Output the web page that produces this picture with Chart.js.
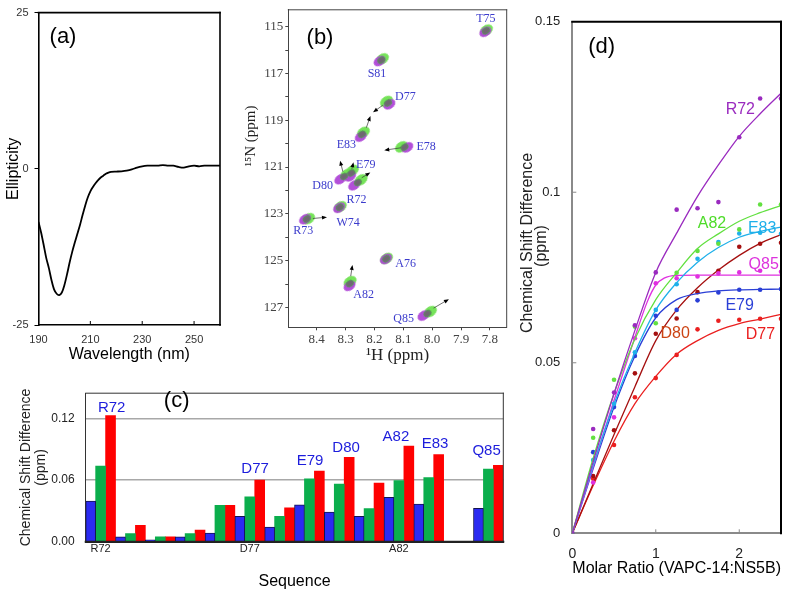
<!DOCTYPE html>
<html><head><meta charset="utf-8">
<script src="https://cdn.jsdelivr.net/npm/chart.js@4.4.1/dist/chart.umd.min.js"></script>
<style>
html,body{margin:0;padding:0;background:#fff;width:786px;height:593px;overflow:hidden;}
.p{position:absolute;}
</style></head><body>
<div class="p" style="left:0;top:0;width:240px;height:372px"><canvas id="ca"></canvas></div>
<div class="p" style="left:240px;top:0;width:290px;height:372px"><canvas id="cb"></canvas></div>
<div class="p" style="left:0;top:375px;width:530px;height:218px"><canvas id="cc"></canvas></div>
<div class="p" style="left:515px;top:0;width:271px;height:593px"><canvas id="cd"></canvas></div>
<script>
// ---------- (a) CD spectrum ----------
const cdWavelength = [190,191,192,193,194,195,196,197,198,199,200,201,202,203,204,205,206,207,208,209,210,211,212,213,214,215,216,217,218,220,222,224,226,228,230,232,234,236,238,240,242,244,246,248,250,252,254,256,258,260];
const cdEllipticity = [-8.5,-10.2,-12.2,-14.3,-15.9,-17.8,-19.3,-20.0,-20.2,-19.8,-18.6,-16.9,-15.0,-13.3,-11.8,-10.4,-9.0,-7.4,-5.9,-4.6,-3.6,-2.9,-2.3,-1.8,-1.4,-1.1,-0.8,-0.6,-0.5,-0.45,-0.4,-0.3,-0.1,0.2,0.4,0.5,0.5,0.5,0.6,0.5,0.5,0.3,0.2,0.4,0.5,0.4,0.5,0.5,0.5,0.5];
const cdTicksX = [190,210,230,250];
const cdTicksY = [-25,0,25];

// ---------- (b) HSQC overlay ----------
const nmrResidues = ['T75','S81','D77','E83','E78','D80','E79','R72','W74','R73','A76','A82','Q85'];
const nmrH      = [7.814,8.176,8.153,8.243,8.096,8.305,8.280,8.257,8.320,8.434,8.159,8.285,8.016];
const nmrN      = [115.18,116.43,118.26,119.60,120.15,121.40,121.25,121.66,122.72,123.22,124.92,125.98,127.26];
const nmrFreeH  = [7.816,8.182,8.148,8.247,8.086,8.318,8.284,8.270,8.322,8.440,8.160,8.286,8.030];
const nmrFreeN  = [115.22,116.47,118.32,119.70,120.16,121.52,121.40,121.78,122.74,123.23,124.93,126.08,127.35];
const nmrBoundH = [7.812,8.172,8.158,8.238,8.106,8.296,8.276,8.246,8.318,8.428,8.158,8.284,8.006];
const nmrBoundN = [115.15,116.38,118.20,119.52,120.14,121.32,121.15,121.55,122.70,123.21,124.91,125.90,127.18];
const arrowFromH = [8.171,8.228,8.109,8.309,8.278,8.244,8.413,8.282,7.995];
const arrowFromN = [118.36,119.32,120.18,121.20,121.08,121.46,123.20,125.67,127.03];
const arrowToH   = [8.199,8.216,8.159,8.317,8.274,8.220,8.371,8.277,7.948];
const arrowToN   = [118.61,118.90,120.27,120.81,120.88,121.28,123.15,125.27,126.69];
const nmrTicksH = [8.4,8.3,8.2,8.1,8.0,7.9,7.8];
const nmrTicksN = [115,116,117,118,119,120,121,122,123,124,125,126,127];

// ---------- (c) chemical shift difference per residue ----------
const seqResidues = ['R72','R73','W74','T75','A76','D77','E78','E79','D80','S81','A82','E83','P84','Q85'];
const csdBlue  = [0.0395,0.0047,0.0019,0.0047,0.0084,0.0246,0.0143,0.0358,0.0289,0.0246,0.0432,0.0367,null,0.0326];
const csdGreen = [0.0737,0.0078,0.0047,0.0078,0.0354,0.0438,0.0246,0.0612,0.0560,0.0323,0.0594,0.0625,null,0.0706];
const csdRed   = [0.1228,0.0159,0.0047,0.0112,0.0354,0.0600,0.0330,0.0687,0.0821,0.0572,0.0930,0.0849,null,0.0743];
const seqTickShown = ['R72','D77','A82'];
const csdTicks = [0,0.06,0.12];
const csdHighlighted = ['R72','D77','E79','D80','A82','E83','Q85'];

// ---------- (d) titration curves ----------
const molarRatio = [0,0.25,0.5,0.75,1,1.25,1.5,1.75,2,2.25,2.5];
const ptR72 = [0,0.0306,0.0413,0.0610,0.0765,0.0949,0.0953,0.0971,0.1161,0.1275,0.1275];
const ptA82 = [0,0.0280,0.0450,0.0606,0.0616,0.0764,0.0828,0.0849,0.0891,0.0964,0.0964];
const ptE83 = [0,0.0215,0.0380,0.0531,0.0655,0.0730,0.0805,0.0854,0.0879,0.0881,0.0878];
const ptQ85 = [0,0.0149,0.0340,0.0572,0.0733,0.0748,0.0753,0.0762,0.0765,0.0770,0.0767];
const ptE79 = [0,0.0238,0.0370,0.0520,0.0638,0.0655,0.0683,0.0706,0.0714,0.0714,0.0716];
const ptD80 = [0,0.0168,0.0302,0.0469,0.0585,0.0630,0.0707,0.0770,0.0840,0.0849,0.0852];
const ptD77 = [0,0.0160,0.0259,0.0399,0.0455,0.0523,0.0598,0.0623,0.0626,0.0629,0.0629];
const fitRatio = [0,0.25,0.5,0.75,1,1.25,1.5,1.75,2,2.25,2.5];
const fitR72 = [0,0.021,0.041,0.0595,0.0765,0.088,0.0988,0.108,0.1164,0.123,0.129];
const fitA82 = [0,0.022,0.041,0.057,0.0685,0.0764,0.0835,0.0878,0.0915,0.094,0.0961];
const fitE83 = [0,0.020,0.038,0.053,0.0655,0.0735,0.0795,0.0838,0.0868,0.0885,0.0898];
const fitE79 = [0,0.019,0.037,0.052,0.0632,0.0685,0.0703,0.0711,0.0714,0.0715,0.0716];
const fitD80 = [0,0.0145,0.029,0.043,0.0565,0.0655,0.072,0.0772,0.0815,0.085,0.0876];
const fitD77 = [0,0.014,0.027,0.038,0.046,0.0525,0.0565,0.0595,0.0615,0.0628,0.0642];
const fitRatioQ85 = [0,0.25,0.5,0.75,0.9,1,1.1,1.25,1.5,2,2.5];
const fitQ85 = [0,0.0195,0.039,0.0575,0.068,0.0728,0.0748,0.0756,0.0757,0.0757,0.0757];
const titrTicksX = [0,1,2];
const titrTicksY = [0,0.05,0.1,0.15];

// ================= rendering =================
const SANS = '"Liberation Sans", Arial, sans-serif';
const SERIF = '"Liberation Serif", "Times New Roman", serif';
Chart.defaults.font.family = SANS;
Chart.defaults.color = '#222';
Chart.defaults.animation = false;

const pts = (xs, ys) => xs.map((x, i) => ({x, y: ys[i]})).filter(p => p.y !== null);
const fixTicks = arr => s => { s.ticks = arr.map(v => ({value: v})); };

function boxPlugin(sides, innerTicks) {
  return {
    id: 'box' + Math.random().toString(36).slice(2),
    afterDraw(chart) {
      const {ctx, chartArea: a} = chart;
      ctx.save();
      ctx.lineCap = 'square';
      sides.forEach(s => {
        ctx.strokeStyle = s.color; ctx.lineWidth = s.width;
        ctx.beginPath();
        if (s.side === 'top') { ctx.moveTo(a.left, a.top); ctx.lineTo(a.right, a.top); }
        if (s.side === 'bottom') { ctx.moveTo(a.left, a.bottom); ctx.lineTo(a.right, a.bottom); }
        if (s.side === 'left') { ctx.moveTo(a.left, a.top); ctx.lineTo(a.left, a.bottom); }
        if (s.side === 'right') { ctx.moveTo(a.right, a.top); ctx.lineTo(a.right, a.bottom); }
        ctx.stroke();
      });
      ctx.lineCap = 'butt';
      (innerTicks || []).forEach(it => {
        const sc = chart.scales[it.axis];
        ctx.strokeStyle = it.color; ctx.lineWidth = it.width;
        it.values.forEach(v => {
          const p = sc.getPixelForValue(v);
          ctx.beginPath();
          if (it.axis === 'x') { ctx.moveTo(p, a.bottom); ctx.lineTo(p, a.bottom - it.len); }
          else { ctx.moveTo(a.left, p); ctx.lineTo(a.left + it.len, p); }
          ctx.stroke();
        });
      });
      ctx.restore();
    }
  };
}
function textPlugin(items) {
  return {
    id: 'txt' + Math.random().toString(36).slice(2),
    afterDraw(chart) {
      const ctx = chart.ctx;
      items.forEach(it => {
        let x = it.x, y = it.y;
        if (it.data) { x = chart.scales.x.getPixelForValue(it.x); y = chart.scales.y.getPixelForValue(it.y); }
        ctx.save();
        ctx.translate(x, y);
        if (it.rot) ctx.rotate(it.rot * Math.PI / 180);
        ctx.font = it.font; ctx.fillStyle = it.color || '#000';
        ctx.textAlign = 'center'; ctx.textBaseline = 'middle';
        ctx.fillText(it.t, 0, 0);
        ctx.restore();
      });
    }
  };
}

// ---------- (a) ----------
new Chart(document.getElementById('ca'), {
  type: 'line',
  data: { datasets: [{ data: pts(cdWavelength, cdEllipticity), borderColor: '#000', borderWidth: 1.8, pointRadius: 0, tension: 0.3, fill: false }] },
  options: {
    responsive: true, maintainAspectRatio: false,
    layout: { padding: { left: 0, top: 7, right: 20, bottom: 0 } },
    plugins: { legend: { display: false }, tooltip: { enabled: false } },
    scales: {
      x: { type: 'linear', min: 190, max: 260, afterBuildTicks: fixTicks(cdTicksX), afterFit: s => { s.height = 47; },
        grid: { drawOnChartArea: false, drawTicks: false }, border: { color: '#000', width: 1.6 },
        ticks: { padding: 8, font: { size: 11 }, color: '#333', maxRotation: 0, autoSkip: false },
        title: { display: true, text: 'Wavelength (nm)', font: { size: 16 }, color: '#000', padding: { top: 0, bottom: 8 } } },
      y: { min: -25, max: 25, afterBuildTicks: fixTicks(cdTicksY), afterFit: s => { s.width = 38.5; },
        grid: { drawOnChartArea: false, drawTicks: true, tickLength: 4, color: '#000' }, border: { color: '#000', width: 1.6 },
        ticks: { padding: 6, font: { size: 11 }, color: '#333' },
        title: { display: true, text: 'Ellipticity', font: { size: 16 }, color: '#000', padding: { top: 4, bottom: 0 } } }
    }
  },
  plugins: [
    boxPlugin([{side:'top',color:'#000',width:1.6},{side:'right',color:'#000',width:1.6}],
              [{axis:'x',values:[210,230,250],len:4,color:'#000',width:1}]),
    textPlugin([{ t: '(a)', x: 63, y: 37, font: '22px ' + SANS, color: '#000' }])
  ]
});

// ---------- (b) ----------
function ellipseImg(color, w, h, stroke) {
  const c = document.createElement('canvas'); c.width = w + 4; c.height = h + 4;
  const g = c.getContext('2d');
  g.beginPath(); g.ellipse((w + 4) / 2, (h + 4) / 2, w / 2, h / 2, 0, 0, Math.PI * 2);
  g.fillStyle = color; g.fill();
  if (stroke) { g.strokeStyle = stroke; g.lineWidth = 1; g.stroke(); }
  return c;
}
const imgGreen = ellipseImg('rgba(110,225,80,0.95)', 14, 10);
const imgMag = ellipseImg('rgba(175,70,215,0.95)', 13, 9);
const imgGray = ellipseImg('rgba(105,105,105,0.9)', 8, 6, 'rgba(80,160,80,0.8)');

function arrowPlugin() {
  return {
    id: 'arrows',
    afterDatasetsDraw(chart) {
      const {ctx, scales: {x, y}} = chart;
      ctx.save();
      ctx.strokeStyle = '#333'; ctx.fillStyle = '#000'; ctx.lineWidth = 0.7;
      arrowFromH.forEach((h, i) => {
        const x1 = x.getPixelForValue(h), y1 = y.getPixelForValue(arrowFromN[i]);
        const x2 = x.getPixelForValue(arrowToH[i]), y2 = y.getPixelForValue(arrowToN[i]);
        const ang = Math.atan2(y2 - y1, x2 - x1);
        ctx.beginPath(); ctx.moveTo(x1, y1); ctx.lineTo(x2, y2); ctx.stroke();
        ctx.beginPath();
        ctx.moveTo(x2 + 2 * Math.cos(ang), y2 + 2 * Math.sin(ang));
        ctx.lineTo(x2 - 3 * Math.cos(ang) - 2 * Math.sin(ang), y2 - 3 * Math.sin(ang) + 2 * Math.cos(ang));
        ctx.lineTo(x2 - 3 * Math.cos(ang) + 2 * Math.sin(ang), y2 - 3 * Math.sin(ang) - 2 * Math.cos(ang));
        ctx.closePath(); ctx.fill();
      });
      ctx.restore();
    }
  };
}
const nmrLabelPos = {T75:[7.814,114.65],S81:[8.191,117.03],D77:[8.093,117.98],E83:[8.297,120.06],E78:[8.021,120.14],
  E79:[8.230,120.92],D80:[8.379,121.80],R72:[8.262,122.40],W74:[8.291,123.40],R73:[8.446,123.71],A76:[8.092,125.13],
  A82:[8.237,126.48],Q85:[8.099,127.47]};
new Chart(document.getElementById('cb'), {
  type: 'scatter',
  data: { datasets: [
    { data: pts(nmrH, nmrN), pointStyle: imgGray, rotation: -35, pointRadius: 4 },
    { data: pts(nmrFreeH, nmrFreeN), pointStyle: imgMag, rotation: -35, pointRadius: 6 },
    { data: pts(nmrBoundH, nmrBoundN), pointStyle: imgGreen, rotation: -35, pointRadius: 7 }
  ] },
  options: {
    responsive: true, maintainAspectRatio: false,
    layout: { padding: { left: 0, top: 8.3, right: 23.3, bottom: 0 } },
    plugins: { legend: { display: false }, tooltip: { enabled: false } },
    scales: {
      x: { type: 'linear', reverse: true, min: 7.742, max: 8.498, afterBuildTicks: fixTicks(nmrTicksH), afterFit: s => { s.height = 44.7; },
        grid: { drawOnChartArea: false, drawTicks: true, tickLength: 3, color: '#444' }, border: { color: '#444', width: 1 },
        ticks: { padding: 1, font: { size: 13, family: SERIF }, color: '#444', maxRotation: 0, autoSkip: false, callback: v => v.toFixed(1) },
        title: { display: true, text: '¹H (ppm)', font: { size: 17, family: SERIF }, color: '#222', padding: { top: 0, bottom: 6 } } },
      y: { type: 'linear', reverse: true, min: 114.28, max: 127.85, afterBuildTicks: fixTicks(nmrTicksN), afterFit: s => { s.width = 48.3; },
        grid: { drawOnChartArea: false, drawTicks: true, tickLength: 3, color: '#444' }, border: { color: '#444', width: 1 },
        ticks: { padding: 2, font: { size: 13, family: SERIF }, color: '#444', autoSkip: false, callback: v => (v % 2 === 1 ? String(v) : '') } }
    }
  },
  plugins: [
    arrowPlugin(),
    boxPlugin([{side:'top',color:'#444',width:1},{side:'right',color:'#444',width:1}]),
    textPlugin(nmrResidues.map(r => ({ t: r, x: nmrLabelPos[r][0], y: nmrLabelPos[r][1], data: true, font: '12px ' + SERIF, color: '#3b3bcc' }))
      .concat([{ t: '(b)', x: 80, y: 38, font: '22px ' + SANS, color: '#000' },
               { t: '¹⁵N (ppm)', x: 11.5, y: 136, rot: -90, font: '15px ' + SERIF, color: '#222' }]))
  ]
});

// ---------- (c) ----------
const cLabelPos = {R72:[0.37,0.1308],D77:[5.18,0.0708],E79:[7.02,0.0785],D80:[8.23,0.0914],A82:[9.9,0.1025],E83:[11.21,0.0954],Q85:[12.94,0.0883]};
new Chart(document.getElementById('cc'), {
  type: 'bar',
  data: { labels: seqResidues, datasets: [
    { data: csdBlue, backgroundColor: '#2b2bf2', borderColor: '#141450', borderWidth: 1, borderSkipped: 'bottom' },
    { data: csdGreen, backgroundColor: '#0bae4c', borderWidth: 0 },
    { data: csdRed, backgroundColor: '#ff0000', borderWidth: 0 }
  ] },
  options: {
    responsive: true, maintainAspectRatio: false,
    datasets: { bar: { categoryPercentage: 1, barPercentage: 1 } },
    layout: { padding: { left: 0, top: 10, right: 26.7, bottom: 0 } },
    plugins: { legend: { display: false }, tooltip: { enabled: false } },
    scales: {
      x: { afterFit: s => { s.height = 51.3; },
        grid: { display: false, drawTicks: false }, border: { color: '#222', width: 2 },
        ticks: { padding: 1, font: { size: 11 }, color: '#222', maxRotation: 0, autoSkip: false,
          callback: (v, i) => (seqTickShown.includes(seqResidues[i]) ? seqResidues[i] : '') },
        title: { display: true, text: 'Sequence', font: { size: 16 }, color: '#000', padding: { top: 0, bottom: 2 } } },
      y: { min: 0, max: 0.1446, afterBuildTicks: fixTicks(csdTicks), afterFit: s => { s.width = 85.7; },
        grid: { drawTicks: false, lineWidth: 1.5, color: c => (c.tick && c.tick.value === 0 ? 'rgba(0,0,0,0)' : '#a8a8a8') },
        border: { color: '#333', width: 1 },
        ticks: { padding: 11, font: { size: 12 }, color: '#222', callback: v => v.toFixed(2) },
        title: { display: true, text: ['Chemical Shift Difference', '(ppm)'], font: { size: 14, lineHeight: 1.07 }, color: '#222', padding: { top: 18.5, bottom: 0 } } }
    }
  },
  plugins: [
    boxPlugin([{side:'top',color:'#333',width:1},{side:'right',color:'#333',width:1},{side:'bottom',color:'#222',width:2}]),
    textPlugin(csdHighlighted.map(r => ({ t: r, x: cLabelPos[r][0], y: cLabelPos[r][1], data: true, font: '15px ' + SANS, color: '#1d1ddc' }))
      .concat([{ t: '(c)', x: 176.7, y: 26, font: '22px ' + SANS, color: '#000' }]))
  ]
});

// ---------- (d) ----------
const titr = [
  { pts: ptR72, fitX: fitRatio, fit: fitR72, color: '#9a2bbf' },
  { pts: ptA82, fitX: fitRatio, fit: fitA82, color: '#62e040' },
  { pts: ptE83, fitX: fitRatio, fit: fitE83, color: '#1fb0ea' },
  { pts: ptQ85, fitX: fitRatioQ85, fit: fitQ85, color: '#e02fe0' },
  { pts: ptE79, fitX: fitRatio, fit: fitE79, color: '#2a3fd6' },
  { pts: ptD80, fitX: fitRatio, fit: fitD80, color: '#a51010' },
  { pts: ptD77, fitX: fitRatio, fit: fitD77, color: '#ea2020' }
];
const dDatasets = [];
titr.forEach(s => {
  dDatasets.push({ type: 'scatter', data: pts(molarRatio, s.pts), backgroundColor: s.color, borderColor: s.color, pointRadius: 2.3, borderWidth: 0 });
  dDatasets.push({ type: 'line', data: pts(s.fitX, s.fit), borderColor: s.color, borderWidth: 1.3, pointRadius: 0, fill: false, cubicInterpolationMode: 'monotone' });
});
const dLabels = [
  { t: 'R72', x: 2.013, y: 0.1241, color: '#9a2bbf' },
  { t: 'A82', x: 1.673, y: 0.0907, color: '#4fdc2a' },
  { t: 'E83', x: 2.274, y: 0.0894, color: '#1fb0ea' },
  { t: 'Q85', x: 2.293, y: 0.0787, color: '#dd33dd' },
  { t: 'E79', x: 2.005, y: 0.0669, color: '#2a3fd6' },
  { t: 'D80', x: 1.233, y: 0.0586, color: '#cc4414' },
  { t: 'D77', x: 2.253, y: 0.0584, color: '#ea2020' }
];
new Chart(document.getElementById('cd'), {
  type: 'scatter',
  data: { datasets: dDatasets },
  options: {
    responsive: true, maintainAspectRatio: false,
    layout: { padding: { left: 0, top: 21.7, right: 5, bottom: 0 } },
    plugins: { legend: { display: false }, tooltip: { enabled: false } },
    scales: {
      x: { type: 'linear', min: 0, max: 2.5, afterBuildTicks: fixTicks(titrTicksX), afterFit: s => { s.height = 59.7; },
        grid: { drawOnChartArea: false, drawTicks: false }, border: { color: '#8a8a8a', width: 2 },
        ticks: { padding: 12, font: { size: 14 }, color: '#222', maxRotation: 0, autoSkip: false },
        title: { display: true, text: 'Molar Ratio (VAPC-14:NS5B)', font: { size: 16 }, color: '#000', padding: { top: 0, bottom: 15 } } },
      y: { min: 0, max: 0.15, afterBuildTicks: fixTicks(titrTicksY), afterFit: s => { s.width = 57.3; },
        grid: { drawOnChartArea: false, drawTicks: false }, border: { color: '#8a8a8a', width: 2 },
        ticks: { padding: 12, font: { size: 13 }, color: '#222', callback: v => (v === 0 ? '0' : String(v)) } }
    }
  },
  plugins: [
    boxPlugin([{side:'top',color:'#000',width:2},{side:'right',color:'#000',width:2}],
              [{axis:'x',values:[1,2],len:4,color:'#888',width:1},{axis:'y',values:[0.05,0.1],len:4,color:'#888',width:1}]),
    textPlugin(dLabels.map(l => ({ t: l.t, x: l.x, y: l.y, data: true, font: '16px ' + SANS, color: l.color }))
      .concat([{ t: '(d)', x: 86.7, y: 46.7, font: '22px ' + SANS, color: '#000' },
               { t: 'Chemical Shift Difference', x: 12.5, y: 243, rot: -90, font: '16px ' + SANS, color: '#222' },
               { t: '(ppm)', x: 26.5, y: 246, rot: -90, font: '16px ' + SANS, color: '#222' }]))
  ]
});
</script>
</body></html>
